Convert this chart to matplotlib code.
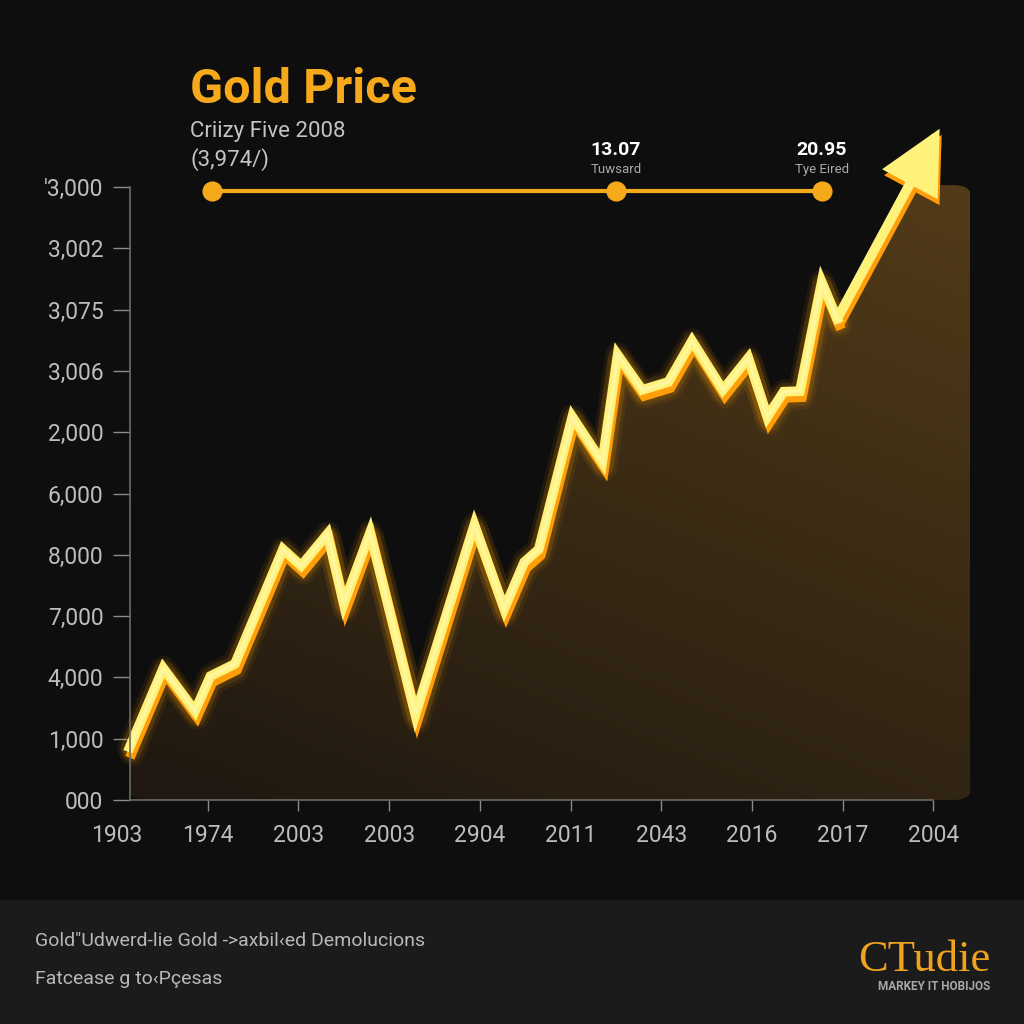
import numpy as np
import matplotlib
matplotlib.use('Agg')
import matplotlib.pyplot as plt
from matplotlib.patches import FancyBboxPatch, Rectangle
from matplotlib.transforms import offset_copy

plt.rcParams['font.family'] = ['Roboto', 'DejaVu Sans']

# data (x in tick-index units, y in tick-index units)
price_x = [0.14, 0.51, 0.86, 1.03, 1.30, 1.83, 2.03, 2.32, 2.50, 2.79,
           3.29, 3.94, 4.27, 4.49, 4.65, 5.02, 5.35, 5.52, 5.79, 6.08,
           6.34, 6.68, 6.96, 7.17, 7.35, 7.53, 7.77, 7.94]
price_y = [0.86, 2.15, 1.45, 2.02, 2.22, 4.09, 3.82, 4.34, 3.20, 4.36,
           1.39, 4.49, 3.12, 3.88, 4.09, 6.25, 5.51, 7.26, 6.69, 6.82,
           7.49, 6.69, 7.21, 6.25, 6.66, 6.67, 8.45, 7.85]
arrow_tip = (9.07, 10.95)

x_labels = ['1903', '1974', '2003', '2003', '2904', '2011', '2043', '2016', '2017', '2004']
y_labels = ['000', '1,000', '4,000', '7,000', '8,000', '6,000', '2,000',
            '3,006', '3,075', '3,002', "'3,000"]

milestone_x = [1.05, 5.50, 7.77]
milestone_level = 9.93
milestone_values = ['13.07', '20.95']
milestone_notes = ['Tuwsard', 'Tye Eired']

BG = '#0e0e0e'
FOOT = '#1b1b1b'
GOLD = '#f6a91b'
CORE = '#fff27a'
SHADOW = '#ff9d0a'
TICK = '#bdbdbd'

fig = plt.figure(figsize=(10.24, 10.24), dpi=100, facecolor=BG)

# axes placed in pixel terms: x tick 0 at px 117, tick 9 at px 933; y tick 0 at 800, tick 10 at 187
xlim = (-0.25, 9.4)
ylim = (0, 11.3)
px_x = lambda v: 117 + v * 90.7
px_y = lambda v: 800 - v * 61.3
left, right = px_x(xlim[0]), px_x(xlim[1])
bottom, top = px_y(ylim[0]), px_y(ylim[1])
ax = fig.add_axes([left / 1024, 1 - bottom / 1024, (right - left) / 1024, (bottom - top) / 1024])
ax.set_facecolor(BG)
ax.set_xlim(*xlim)
ax.set_ylim(*ylim)

# footer band
fig.patches.append(Rectangle((0, 0), 1, 124 / 1024, transform=fig.transFigure,
                             facecolor=FOOT, edgecolor='none', zorder=0))

# gradient panel clipped to rounded box, then blacked out above the curve
box = FancyBboxPatch((0.14, 0), 9.42 - 0.14, 10.03, boxstyle='round,pad=0,rounding_size=0.2',
                     transform=ax.transData, facecolor='none', edgecolor='none')
ax.add_patch(box)
gx, gy = np.meshgrid(np.linspace(0, 1, 200), np.linspace(0, 1, 200))
t = 0.35 * gx + 0.65 * gy
c0 = np.array([0x1f, 0x18, 0x11]) / 255
c1 = np.array([0x52, 0x3b, 0x18]) / 255
img = c0[None, None, :] * (1 - t[..., None]) + c1[None, None, :] * t[..., None]
im = ax.imshow(img, extent=(0.14, 9.42, 0, 10.03), origin='lower', aspect='auto', zorder=1)
im.set_clip_path(box)
ax.fill_between(price_x + [arrow_tip[0]], price_y + [arrow_tip[1]], 11.3,
                color=BG, lw=0, zorder=1.2)

# glowing line
shadow_tr = offset_copy(ax.transData, fig=fig, x=2, y=-6, units='dots')
for lw, a in [(18, 0.07), (13, 0.12)]:
    ax.plot(price_x, price_y, color='#ffa000', lw=lw, alpha=a, solid_joinstyle='round',
            solid_capstyle='round', zorder=3)
    ax.plot(price_x, price_y, color='#ffa000', lw=lw, alpha=a, solid_joinstyle='round',
            solid_capstyle='round', transform=shadow_tr, zorder=3)
ax.plot(price_x, price_y, color=SHADOW, lw=7, transform=shadow_tr, solid_joinstyle='miter', zorder=4)
ax.plot(price_x, price_y, color=CORE, lw=7, solid_joinstyle='miter', zorder=5)
ax.plot(price_x, price_y, color='#fff7a0', lw=2.5, solid_joinstyle='miter', zorder=5.1)

arrow_style = '-|>,head_length=1.7,head_width=0.85'
ax.annotate('', xy=arrow_tip, xytext=(price_x[-1], price_y[-1]),
            xycoords=shadow_tr, textcoords=shadow_tr,
            arrowprops=dict(arrowstyle=arrow_style, color=SHADOW, lw=7,
                            mutation_scale=20, shrinkA=0, shrinkB=0, joinstyle='miter'),
            zorder=4)
ax.annotate('', xy=arrow_tip, xytext=(price_x[-1], price_y[-1]),
            arrowprops=dict(arrowstyle=arrow_style, color=CORE, lw=7,
                            mutation_scale=20, shrinkA=0, shrinkB=0, joinstyle='miter'),
            zorder=5)

# milestone bar
ax.plot([milestone_x[0], milestone_x[-1]], [milestone_level] * 2, color=GOLD, lw=3, zorder=6)
ax.plot(milestone_x, [milestone_level] * 3, 'o', color=GOLD, ms=13.5, zorder=6)
for mx, val, note in zip(milestone_x[1:], milestone_values, milestone_notes):
    ax.text(mx, milestone_level + 0.67, val, color='white', fontsize=14, fontweight='bold',
            ha='center', va='center')
    ax.text(mx, milestone_level + 0.35, note, color='#a8a8a8', fontsize=9.5,
            ha='center', va='center')

# axes styling
for s in ['top', 'right']:
    ax.spines[s].set_visible(False)
ax.spines['left'].set_position(('data', 0.14))
ax.spines['left'].set_bounds(0, 10)
ax.spines['bottom'].set_bounds(0.14, 9.0)
for s in ['left', 'bottom']:
    ax.spines[s].set_color('#6b6b5f')
    ax.spines[s].set_linewidth(1.2)
    ax.spines[s].set_zorder(6)

ax.set_yticks(range(len(y_labels)))
ax.set_yticklabels(y_labels)
ax.set_xticks(range(len(x_labels)))
ax.set_xticklabels(x_labels)
ax.tick_params(axis='y', length=12, width=1, color='#8a8a8a', pad=7, labelsize=16.5, labelcolor=TICK)
ax.tick_params(axis='x', length=8, width=1, color='#8a8a8a', pad=9, labelsize=16.5, labelcolor=TICK)
ax.xaxis.get_major_ticks()[0].tick1line.set_visible(False)

# titles
fig.text(190 / 1024, 1 - 90 / 1024, 'Gold Price', color=GOLD, fontsize=35, fontweight='bold',
         va='center', ha='left')
fig.text(190 / 1024, 1 - 132 / 1024, 'Criizy Five 2008', color='#c4c4c4', fontsize=16,
         va='center', ha='left')
fig.text(190 / 1024, 1 - 160 / 1024, '(3,974/)', color='#c4c4c4', fontsize=16,
         va='center', ha='left')

# footer
fig.text(35 / 1024, 1 - 941 / 1024, 'Gold"Udwerd-lie Gold ->axbil‹ed Demolucions', color='#b8b8b8',
         fontsize=14, va='center', ha='left')
fig.text(35 / 1024, 1 - 979 / 1024, 'Fatcease g to‹Pçesas', color='#b8b8b8',
         fontsize=14, va='center', ha='left')
fig.text(990 / 1024, 1 - 960 / 1024, 'CTudie', color='#f0a41e', fontsize=32,
         family='Liberation Serif', va='center', ha='right')
fig.text(990 / 1024, 1 - 986 / 1024, 'MARKEY IT HOBIJOS', color='#a8a8a8', fontsize=8.5,
         fontweight='bold', va='center', ha='right')

fig.savefig('out.png', dpi=100, facecolor=BG)
